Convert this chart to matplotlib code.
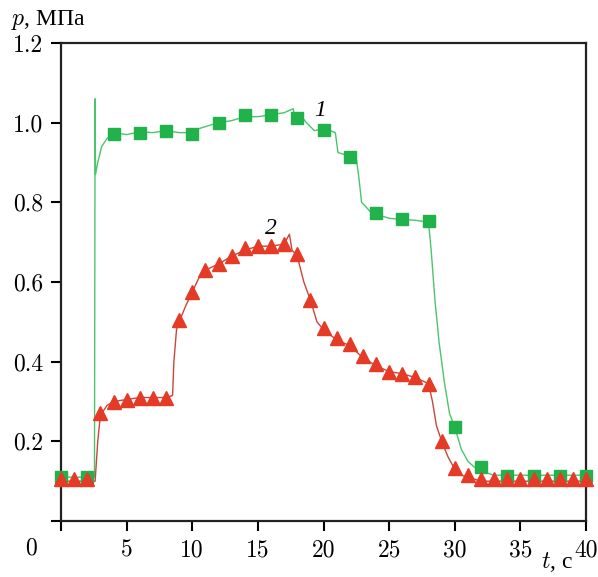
import matplotlib
matplotlib.use("Agg")
import matplotlib.pyplot as plt

# curve 1 (green): line trace and square markers
t1_line = [0, 2.55, 2.6, 2.63, 2.8, 3.1, 3.5, 4, 5, 6, 7, 8, 9, 10, 10.5, 11, 12, 13, 14, 15,
           16, 17, 17.7, 17.8, 18.2, 18.7, 19.3, 20, 20.5, 20.9, 21.1, 21.6, 22, 22.5, 22.7,
           22.9, 23.2, 23.6, 24, 25, 26, 27, 28, 28.2, 28.5, 28.8, 29.2, 29.6, 30, 30.5, 31,
           31.5, 32, 32.5, 33, 40]
p1_line = [0.11, 0.11, 1.06, 0.87, 0.90, 0.94, 0.96, 0.975, 0.97, 0.977, 0.975, 0.98, 0.975,
           0.975, 0.985, 0.99, 1.0, 1.005, 1.015, 1.015, 1.02, 1.025, 1.035, 1.0, 1.02, 1.0,
           0.98, 0.985, 0.98, 0.975, 0.925, 0.92, 0.915, 0.91, 0.86, 0.80, 0.79, 0.775, 0.77,
           0.76, 0.757, 0.755, 0.75, 0.68, 0.55, 0.45, 0.35, 0.27, 0.235, 0.18, 0.15, 0.135,
           0.13, 0.12, 0.115, 0.115]
t1_mark = [0, 2, 4, 6, 8, 10, 12, 14, 16, 18, 20, 22, 24, 26, 28, 30, 32, 34, 36, 38, 40]
p1_mark = [0.11, 0.11, 0.972, 0.975, 0.98, 0.972, 1.0, 1.02, 1.02, 1.012, 0.982, 0.915, 0.772,
           0.757, 0.752, 0.235, 0.135, 0.112, 0.112, 0.112, 0.112]

# curve 2 (red): line trace and triangle markers
t2_line = [0, 2.6, 2.8, 3.0, 3.5, 4, 5, 6, 7, 8, 8.5, 8.6, 8.8, 9, 9.5, 10, 10.5, 11, 12, 13,
           14, 15, 16, 17, 17.4, 17.6, 18, 18.5, 19, 19.5, 20, 21, 22, 23, 24, 25, 26, 27, 28,
           28.3, 28.6, 29, 29.5, 30, 30.5, 31, 32, 40]
p2_line = [0.10, 0.10, 0.20, 0.265, 0.29, 0.30, 0.305, 0.31, 0.31, 0.31, 0.315, 0.40, 0.48,
           0.50, 0.54, 0.575, 0.61, 0.63, 0.645, 0.665, 0.68, 0.69, 0.69, 0.695, 0.72, 0.68,
           0.665, 0.60, 0.555, 0.50, 0.48, 0.455, 0.44, 0.41, 0.39, 0.375, 0.37, 0.36, 0.345,
           0.30, 0.24, 0.20, 0.16, 0.13, 0.115, 0.11, 0.10, 0.10]
t2_mark = list(range(0, 41))
p2_mark = [0.105, 0.105, 0.105, 0.27, 0.30, 0.305, 0.31, 0.31, 0.31, 0.505, 0.575, 0.63,
           0.645, 0.665, 0.685, 0.69, 0.69, 0.695, 0.67, 0.555, 0.485, 0.46, 0.445, 0.415,
           0.395, 0.375, 0.37, 0.362, 0.345, 0.20, 0.132, 0.115, 0.105, 0.105, 0.105, 0.105,
           0.105, 0.105, 0.105, 0.105, 0.105]

x_ticks = [0, 5, 10, 15, 20, 25, 30, 35, 40]
y_ticks = [0, 0.2, 0.4, 0.6, 0.8, 1.0, 1.2]

plt.rcParams["font.family"] = ["cmr10"]
plt.rcParams["mathtext.fontset"] = "cm"

GREEN = "#22b24c"
RED = "#e53a26"
FS = 17

fig = plt.figure(figsize=(5.98, 5.77), dpi=100)
ax = fig.add_axes([0.102, 0.097, 0.878, 0.8285])

ax.plot(t1_line, p1_line, color="#4cc46c", lw=1.0, zorder=2)
ax.plot(t1_mark, p1_mark, "s", color=GREEN, ms=8, mec=GREEN, zorder=3, clip_on=False)
ax.plot(t2_line, p2_line, color="#c8463a", lw=1.0, zorder=2)
ax.plot(t2_mark, p2_mark, "^", color=RED, ms=9.5, mec=RED, zorder=4, clip_on=False)

ax.set_xlim(0, 40)
ax.set_ylim(0, 1.2)
ax.set_xticks(x_ticks)
ax.set_xticklabels([""] + [str(v) for v in x_ticks[1:]])
ax.set_yticks(y_ticks)
ax.set_yticklabels([""] + [f"{v:.1f}" for v in y_ticks[1:]])
ax.tick_params(direction="out", length=7, width=1.5, labelsize=FS, pad=6)
for s in ax.spines.values():
    s.set_linewidth(1.6)
    s.set_color("#222222")

ax.text(-0.045, -0.035, "0", transform=ax.transAxes, fontsize=FS, ha="right", va="top")
ax.text(19.3, 1.03, "1", fontsize=FS, family="Liberation Serif", style="italic",
        ha="left", va="center")
ax.text(16.0, 0.735, "2", fontsize=FS, family="Liberation Serif", style="italic",
        ha="center", va="center")
ax.text(-0.095, 1.022, r"$p$, МПа", transform=ax.transAxes, fontsize=FS,
        family="Liberation Serif", ha="left", va="bottom")
ax.text(0.975, -0.06, r"$t$, с", transform=ax.transAxes, fontsize=FS,
        family="Liberation Serif", ha="right", va="top")

fig.savefig("out.png", dpi=100)
